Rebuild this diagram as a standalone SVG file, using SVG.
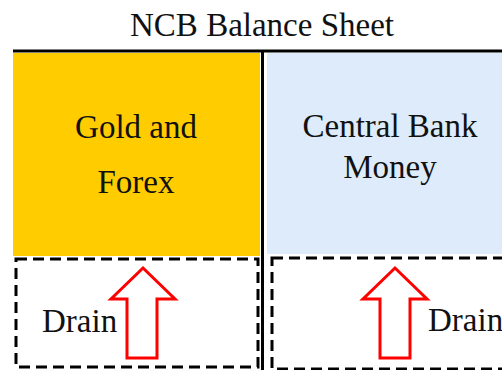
<svg xmlns="http://www.w3.org/2000/svg" width="502" height="370" viewBox="0 0 502 370">
  <style>
    .lbl { font-family: "Liberation Serif", "Times New Roman", serif; font-size: 33px; fill: #111; }
    .mid { text-anchor: middle; }
    .rule { stroke: #000; stroke-width: 3; fill: none; }
    .drain { fill: none; stroke: #000; stroke-width: 3; stroke-dasharray: 11 6; }
    .arrow { fill: #fff; stroke: #f00; stroke-width: 3; stroke-linejoin: miter; }
  </style>

  <text id="title" class="lbl mid" x="262" y="36">NCB Balance Sheet</text>

  <g id="assets">
    <rect x="13" y="53" width="247" height="203" fill="#FFCC00"/>
    <text class="lbl mid" x="136" y="138">Gold and</text>
    <text class="lbl mid" x="136" y="193">Forex</text>
  </g>

  <g id="liabilities">
    <rect x="267" y="53" width="235" height="201" fill="#DDEBFA"/>
    <text class="lbl mid" x="390" y="137">Central Bank</text>
    <text class="lbl mid" x="390" y="178">Money</text>
  </g>

  <g id="frame">
    <line class="rule" x1="13" y1="51" x2="502" y2="51"/>
    <line class="rule" x1="262.5" y1="51" x2="262.5" y2="370"/>
  </g>

  <g id="drain-left">
    <rect class="drain" x="16" y="259" width="242" height="108"/>
    <text class="lbl" x="42" y="332">Drain</text>
  </g>

  <g id="drain-right">
    <rect class="drain" x="272" y="258" width="250" height="111"/>
    <text class="lbl" x="428" y="331">Drain</text>
  </g>

  <g id="connectors">
    <polygon class="arrow" points="143,268 175,299 157,299 157,358 127,358 127,299 111,299"/>
    <polygon class="arrow" points="395,268 427,299 410,299 410,358 380,358 380,299 363,299"/>
  </g>
</svg>
